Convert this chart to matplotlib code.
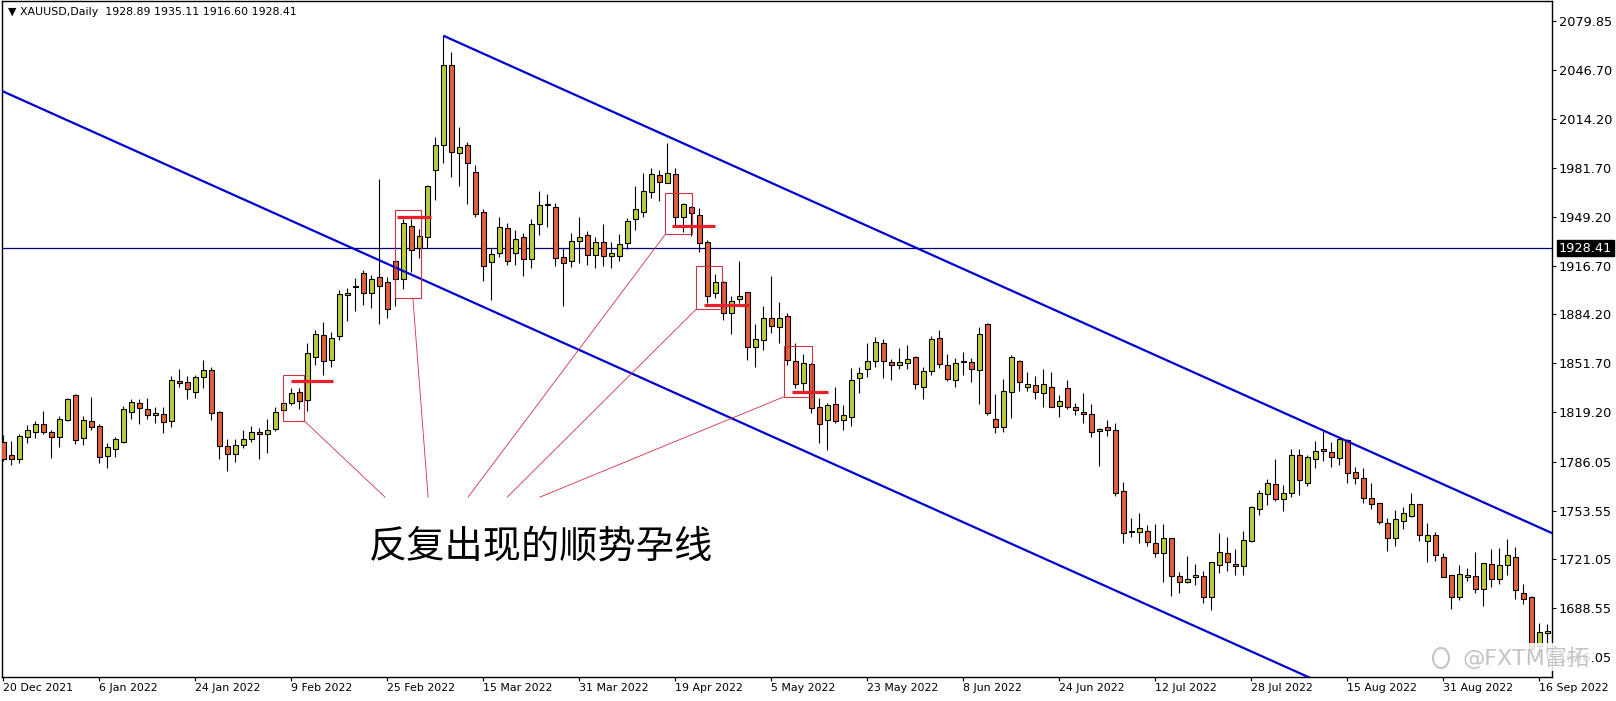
import matplotlib
matplotlib.use("Agg")
import matplotlib.pyplot as plt
from matplotlib.patches import Rectangle, Ellipse

# ---------------- data ----------------
date_labels = ["20 Dec 2021", "6 Jan 2022", "24 Jan 2022", "9 Feb 2022", "25 Feb 2022",
               "15 Mar 2022", "31 Mar 2022", "19 Apr 2022", "5 May 2022", "23 May 2022",
               "8 Jun 2022", "24 Jun 2022", "12 Jul 2022", "28 Jul 2022", "15 Aug 2022",
               "31 Aug 2022", "16 Sep 2022"]
date_index = [0, 12, 24, 36, 48, 60, 72, 84, 96, 108, 120, 132, 144, 156, 168, 180, 192]

opens = [1799.4, 1790.3, 1788.1, 1802.3, 1805.7, 1811.0, 1805.7, 1802.8, 1813.9, 1830.3,
         1801.6, 1813.2, 1809.9, 1789.9, 1794.3, 1799.4, 1819.4, 1825.0, 1821.0, 1817.0,
         1817.6, 1813.4, 1839.8, 1838.9, 1832.3, 1842.3, 1847.2, 1819.0, 1796.7, 1791.0,
         1797.0, 1801.0, 1806.1, 1804.3, 1807.6, 1820.5, 1825.0, 1832.3, 1827.2, 1855.6,
         1870.3, 1853.8, 1869.8, 1897.1, 1902.5, 1911.5, 1898.2, 1909.3, 1906.0, 1919.9,
         1907.5, 1943.1, 1928.2, 1935.9, 1980.4, 1996.8, 2050.3, 1991.4, 1996.8, 1979.2,
         1952.6, 1919.3, 1925.3, 1941.5, 1924.9, 1936.0, 1920.9, 1944.4, 1958.0, 1955.5,
         1922.2, 1920.0, 1933.1, 1936.8, 1923.8, 1932.2, 1923.1, 1923.1, 1931.5, 1947.5,
         1952.2, 1965.9, 1977.0, 1971.9, 1977.5, 1949.3, 1955.5, 1950.2, 1932.2, 1898.2,
         1905.5, 1884.9, 1894.7, 1898.9, 1862.7, 1867.1, 1881.6, 1875.6, 1883.1, 1853.2,
         1838.3, 1850.9, 1822.3, 1813.9, 1824.3, 1813.9, 1816.1, 1841.6, 1847.6, 1853.2,
         1864.9, 1852.5, 1850.5, 1851.6, 1855.6, 1836.1, 1846.7, 1868.3, 1850.5, 1840.5,
         1852.5, 1852.3, 1847.2, 1877.8, 1814.3, 1809.0, 1832.3, 1853.2, 1835.6, 1837.0,
         1831.6, 1836.1, 1823.2, 1835.0, 1822.3, 1819.0, 1817.9, 1806.6, 1809.0, 1807.2,
         1766.6, 1739.3, 1739.5, 1740.2, 1732.2, 1725.1, 1735.1, 1710.2, 1706.2, 1709.1,
         1710.2, 1695.8, 1717.3, 1725.1, 1718.0, 1716.7, 1733.3, 1754.4, 1764.4, 1771.0,
         1761.1, 1765.1, 1790.3, 1772.2, 1787.7, 1794.8, 1792.4, 1788.4, 1800.6, 1779.0,
         1775.0, 1761.7, 1758.4, 1745.1, 1735.1, 1746.8, 1750.2, 1757.7, 1733.5, 1737.3,
         1722.4, 1710.7, 1696.2, 1709.1, 1710.0, 1701.1, 1718.0, 1707.8, 1717.3, 1722.8,
         1698.9, 1695.9, 1663.1, 1672.0]
highs = [1803.9, 1799.9, 1804.3, 1810.5, 1813.4, 1819.9, 1807.2, 1816.5, 1828.3, 1831.2,
         1816.5, 1829.0, 1811.0, 1798.3, 1802.3, 1823.2, 1827.6, 1827.6, 1828.3, 1822.3,
         1822.3, 1843.2, 1847.6, 1843.2, 1843.8, 1853.8, 1849.4, 1820.0, 1801.0, 1801.0,
         1807.0, 1810.0, 1808.3, 1814.3, 1822.7, 1827.6, 1835.0, 1835.4, 1865.4, 1873.8,
         1878.9, 1872.3, 1900.5, 1901.6, 1908.2, 1913.8, 1910.4, 1974.2, 1909.3, 1921.0,
         1947.5, 1947.5, 1940.8, 1970.4, 2002.1, 2069.8, 2058.7, 2008.8, 1999.0, 1983.5,
         1954.2, 1928.6, 1949.3, 1944.8, 1940.4, 1938.2, 1947.5, 1966.4, 1964.4, 1958.1,
         1928.6, 1938.2, 1949.3, 1939.7, 1936.0, 1944.4, 1932.6, 1937.5, 1948.2, 1969.7,
         1978.6, 1981.5, 1980.4, 1998.6, 1981.5, 1958.6, 1956.4, 1955.3, 1933.7, 1911.1,
         1906.7, 1896.4, 1919.8, 1898.9, 1877.8, 1889.8, 1909.8, 1892.2, 1885.3, 1864.9,
         1857.8, 1852.0, 1828.3, 1825.4, 1836.1, 1823.9, 1848.3, 1848.9, 1864.9, 1868.9,
         1867.6, 1854.3, 1861.6, 1863.8, 1856.5, 1849.4, 1869.8, 1873.8, 1857.8, 1854.9,
         1859.4, 1854.9, 1876.0, 1878.2, 1831.2, 1841.2, 1857.2, 1853.8, 1845.6, 1843.2,
         1847.6, 1845.6, 1830.5, 1840.5, 1825.0, 1832.2, 1824.3, 1808.8, 1813.9, 1812.1,
         1772.8, 1748.8, 1751.7, 1744.0, 1744.4, 1744.6, 1735.1, 1712.9, 1723.3, 1718.0,
         1713.5, 1719.5, 1738.4, 1735.7, 1727.8, 1740.0, 1756.6, 1767.3, 1774.4, 1787.7,
         1770.6, 1794.4, 1794.4, 1790.6, 1800.1, 1806.8, 1799.5, 1802.3, 1801.0, 1782.8,
         1781.7, 1772.1, 1758.8, 1748.4, 1753.9, 1755.7, 1765.0, 1757.7, 1745.1, 1739.5,
         1725.5, 1710.7, 1717.3, 1715.1, 1725.7, 1718.9, 1728.0, 1728.9, 1734.4, 1729.0,
         1704.9, 1696.5, 1678.4, 1677.9]
lows = [1786.8, 1783.9, 1785.0, 1798.3, 1802.1, 1804.3, 1788.8, 1795.7, 1813.4, 1797.7,
        1797.2, 1807.2, 1785.4, 1781.7, 1789.4, 1798.8, 1814.3, 1811.2, 1814.3, 1812.1,
        1805.0, 1809.4, 1835.6, 1827.6, 1828.7, 1835.0, 1813.9, 1788.0, 1780.0, 1786.0,
        1795.0, 1799.0, 1788.0, 1792.0, 1806.8, 1815.0, 1823.9, 1821.0, 1820.0, 1850.5,
        1843.8, 1849.4, 1867.1, 1880.0, 1886.7, 1890.5, 1888.2, 1877.6, 1881.6, 1890.0,
        1900.9, 1912.6, 1921.5, 1928.2, 1960.4, 1985.0, 1975.5, 1969.9, 1958.0, 1949.3,
        1906.7, 1893.8, 1922.2, 1917.1, 1917.1, 1909.8, 1914.9, 1937.0, 1942.6, 1916.4,
        1889.8, 1915.5, 1918.6, 1917.1, 1914.9, 1916.4, 1914.9, 1920.0, 1927.7, 1940.4,
        1949.3, 1961.9, 1959.7, 1971.5, 1943.7, 1939.3, 1936.4, 1926.0, 1891.6, 1895.3,
        1880.5, 1871.1, 1892.0, 1853.8, 1849.4, 1860.5, 1871.6, 1864.9, 1850.5, 1835.0,
        1831.6, 1818.7, 1798.3, 1793.9, 1812.1, 1807.2, 1809.9, 1831.6, 1842.7, 1848.9,
        1841.6, 1840.5, 1847.6, 1847.6, 1834.3, 1827.6, 1843.8, 1848.3, 1840.1, 1836.1,
        1843.8, 1839.4, 1824.5, 1817.0, 1805.0, 1806.0, 1815.0, 1833.4, 1833.4, 1827.6,
        1822.7, 1822.3, 1816.1, 1821.0, 1817.2, 1811.7, 1802.3, 1783.3, 1803.5, 1763.3,
        1731.7, 1735.7, 1732.2, 1730.2, 1722.4, 1706.2, 1696.9, 1698.5, 1705.1, 1704.0,
        1691.8, 1687.4, 1712.2, 1713.5, 1710.7, 1710.7, 1732.9, 1750.6, 1757.3, 1760.2,
        1753.5, 1762.4, 1763.9, 1769.9, 1781.7, 1786.8, 1782.8, 1783.9, 1772.1, 1771.3,
        1758.8, 1754.4, 1744.6, 1726.9, 1730.0, 1741.1, 1749.1, 1733.5, 1719.5, 1720.2,
        1709.1, 1687.8, 1694.0, 1706.9, 1698.9, 1690.0, 1702.9, 1704.7, 1710.7, 1694.4,
        1691.3, 1660.0, 1655.4, 1653.9]
closes = [1787.7, 1787.7, 1803.2, 1807.2, 1811.0, 1805.7, 1802.8, 1814.3, 1827.6, 1800.5,
          1813.9, 1809.4, 1789.0, 1795.7, 1801.0, 1821.0, 1825.9, 1822.1, 1817.0, 1818.3,
          1812.7, 1840.5, 1838.7, 1834.3, 1842.3, 1847.2, 1818.3, 1796.7, 1791.0, 1797.0,
          1801.0, 1806.1, 1804.3, 1807.2, 1819.4, 1825.4, 1832.0, 1826.5, 1858.3, 1871.1,
          1853.2, 1868.3, 1897.6, 1898.2, 1902.7, 1898.2, 1907.6, 1903.3, 1887.6, 1907.5,
          1944.8, 1927.1, 1936.4, 1969.7, 1996.8, 2050.3, 1992.1, 1995.4, 1984.8, 1950.8,
          1916.6, 1924.2, 1942.2, 1920.0, 1934.2, 1920.9, 1944.2, 1957.0, 1956.8, 1921.5,
          1918.6, 1933.1, 1936.0, 1923.8, 1932.2, 1923.1, 1924.9, 1930.9, 1946.6, 1954.2,
          1966.4, 1977.7, 1972.6, 1978.1, 1948.8, 1957.7, 1951.5, 1931.5, 1896.7, 1905.5,
          1884.9, 1893.3, 1896.4, 1862.7, 1867.8, 1881.6, 1876.7, 1881.6, 1853.8, 1837.8,
          1851.6, 1821.6, 1811.0, 1823.8, 1813.4, 1817.2, 1840.5, 1845.0, 1853.2, 1865.6,
          1853.2, 1850.5, 1852.5, 1854.3, 1837.8, 1846.5, 1867.6, 1851.0, 1841.0, 1851.6,
          1852.7, 1847.6, 1871.1, 1818.3, 1809.0, 1833.2, 1855.6, 1839.4, 1837.6, 1832.8,
          1837.6, 1822.7, 1826.7, 1822.3, 1820.3, 1817.7, 1806.1, 1807.7, 1807.2, 1765.1,
          1738.4, 1739.4, 1741.7, 1732.8, 1725.5, 1735.1, 1710.0, 1706.2, 1708.0, 1710.7,
          1695.8, 1719.5, 1726.2, 1719.5, 1717.0, 1734.0, 1756.2, 1765.1, 1771.7, 1761.1,
          1765.1, 1790.3, 1774.1, 1789.0, 1793.5, 1793.2, 1789.0, 1801.0, 1778.4, 1775.0,
          1761.7, 1757.7, 1746.2, 1735.1, 1747.7, 1751.7, 1757.7, 1737.3, 1737.3, 1724.0,
          1709.6, 1696.2, 1711.3, 1710.7, 1701.1, 1718.4, 1707.8, 1717.3, 1724.0, 1700.4,
          1694.4, 1661.5, 1673.0, 1673.5]

price_ticks = [2079.85, 2046.70, 2014.20, 1981.70, 1949.20, 1916.70, 1884.20, 1851.70,
               1819.20, 1786.05, 1753.55, 1721.05, 1688.55, 1656.05]
last_price = 1928.41
title_text = "\u25bc XAUUSD,Daily  1928.89 1935.11 1916.60 1928.41"
note_text = "反复出现的顺势孕线"
watermark_text = "@FXTM富拓"

# channel (bar index, price)
upper_line = [(55, 2069.8), (200, 2069.8 - 2.39 * 145)]
lower_line = [(-2, 2032.6 + 2.39 * 2), (200, 2032.6 - 2.39 * 200)]

# inside-bar boxes: (i0, i1, top, bottom)
boxes = [(34.9, 37.6, 1843.6, 1813.4),
         (49.0, 52.2, 1953.7, 1894.9),
         (82.75, 86.05, 1964.8, 1937.5),
         (86.6, 89.8, 1916.4, 1887.6),
         (97.6, 101.05, 1863.1, 1829.4)]
# short red marks: (i0, i1, price)
marks = [(36.0, 41.2, 1839.8), (49.2, 53.4, 1948.8), (83.6, 89.0, 1942.8),
         (87.6, 93.2, 1890.4), (98.6, 103.1, 1832.7)]
# connectors: (i_start, p_start, i_end, p_end)
connectors = [(37.6, 1813.4, 47.7, 1762.6),
              (51.2, 1894.9, 53.1, 1762.6),
              (82.75, 1937.5, 58.1, 1762.6),
              (86.6, 1887.6, 63.0, 1762.6),
              (97.6, 1829.4, 67.1, 1762.6)]

# ---------------- figure ----------------
W, H = 1616, 701
fig = plt.figure(figsize=(W / 100, H / 100), dpi=100)
ax_l, ax_r, ax_t, ax_b = 1.5, 1552, 1, 677
ax = fig.add_axes([ax_l / W, (H - ax_b) / H, (ax_r - ax_l) / W, (ax_b - ax_t) / H])

xmin = (ax_l - 3.3) / 8.0
xmax = (ax_r - 3.3) / 8.0
ax.set_xlim(xmin, xmax)
ax.set_ylim(2093.57 - 0.6659 * ax_b, 2093.57 - 0.6659 * ax_t)

bull = "#bccc3c"
bear = "#e2603a"

n = len(opens)
idx = list(range(n))
ax.vlines(idx, lows, highs, color="black", linewidth=0.8, zorder=3)
for i in idx:
    o, c = opens[i], closes[i]
    lo, hi = min(o, c), max(o, c)
    h = max(hi - lo, 0.35)
    ax.add_patch(Rectangle((i - 0.31, lo), 0.62, h, facecolor=bull if c >= o else bear,
                           edgecolor="black", linewidth=0.8, zorder=4))

# last price horizontal line
ax.axhline(last_price, color="#000080", linewidth=0.9, zorder=2)

# channel lines
for ln in (upper_line, lower_line):
    ax.plot([ln[0][0], ln[1][0]], [ln[0][1], ln[1][1]], color="#0000d0",
            linewidth=1.6, zorder=5, solid_capstyle="butt")

# boxes, marks, connectors
for (i0, i1, top, bot) in boxes:
    ax.add_patch(Rectangle((i0, bot), i1 - i0, top - bot, fill=False,
                           edgecolor="#cc3344", linewidth=0.8, zorder=6))
for (i0, i1, p) in marks:
    ax.plot([i0, i1], [p, p], color="#e8202a", linewidth=2.3, zorder=7,
            solid_capstyle="butt")
for (a, b, c2, d) in connectors:
    ax.plot([a, c2], [b, d], color="#d03048", linewidth=0.6, zorder=6)

ax.text(67.2, 1729.5, note_text, fontsize=27.5, family=["Noto Sans CJK SC", "DejaVu Sans"],
        ha="center", va="center", color="black", zorder=8)

# axes styling
for s in ("left", "bottom", "right", "top"):
    ax.spines[s].set_linewidth(1.0)
    ax.spines[s].set_color("black")

ax.yaxis.tick_right()
ax.set_yticks(price_ticks)
ax.set_yticklabels([f"{p:.2f}" for p in price_ticks])
ax.tick_params(axis="y", direction="out", length=3, width=0.8, pad=2,
               labelsize=9.3, labelcolor="black")
ax.set_xticks(date_index)
ax.set_xticklabels(date_labels)
ax.tick_params(axis="x", direction="out", length=3, width=0.8, pad=1.5,
               labelsize=7.9)
for lbl in ax.get_xticklabels():
    lbl.set_ha("left")
for lbl in ax.get_xticklabels() + ax.get_yticklabels():
    lbl.set_family("DejaVu Sans")

# price tag for last price
ax.annotate(f"{last_price:.2f}", xy=(1.0, last_price), xycoords=("axes fraction", "data"),
            xytext=(5, 0), textcoords="offset points", ha="left", va="center",
            fontsize=9.3, color="white", family="DejaVu Sans",
            bbox=dict(boxstyle="square,pad=0.12", facecolor="black", edgecolor="black"),
            annotation_clip=False, zorder=10)

# title
fig.text(8 / W, 1 - 12 / H, title_text, fontsize=7.9, ha="left", va="center",
         family="DejaVu Sans", color="black")

# watermark (covers the lowest price label like in the screenshot)
fig.text(1462 / W, 1 - 657 / H, watermark_text, fontsize=16, ha="left", va="center",
         family=["DejaVu Sans", "Noto Sans CJK SC"], color="#c4c4c4",
         bbox=dict(boxstyle="square,pad=0.1", facecolor="white", edgecolor="none", alpha=0.85),
         zorder=20)
fig.patches.append(Ellipse((1441 / W, 1 - 658 / H), 16 / W, 20 / H, transform=fig.transFigure,
                           fill=False, edgecolor="#c4c4c4", linewidth=1.5))

fig.savefig("out.png", dpi=100, facecolor="white")
